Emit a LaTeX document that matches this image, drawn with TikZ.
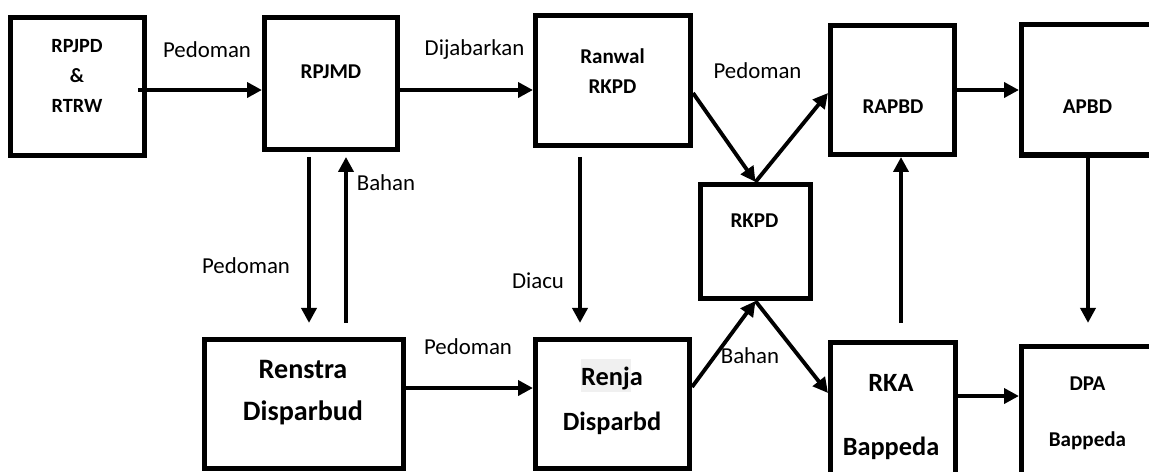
\documentclass[tikz,border=0pt]{standalone}
\usepackage{fontspec}
\setmainfont{Carlito}
\usetikzlibrary{arrows.meta}

\tikzset{
	box/.style={draw, line width=2.9pt, inner sep=0pt},
	arr/.style={line width=2.2pt, -{Triangle[length=8.5pt,width=8.5pt]}},
	lbl/.style={font=\fontsize{13}{15}\selectfont, inner sep=0pt, anchor=base},
	txt/.style={font=\bfseries\fontsize{#1}{#1}\selectfont, inner sep=0pt, anchor=base},
	txt/.default=12
}

\begin{document}
\begin{tikzpicture}[x=0.02cm, y=-0.02cm]
	\useasboundingbox (0,0) rectangle (1149,471);
	\clip (0,0) rectangle (1149,471);

	% Boxes
	\node[box, minimum width=2.68cm, minimum height=2.76cm] (rpjpd) at (77.5,86.5) {};
	\node[box, minimum width=2.66cm, minimum height=2.64cm] (rpjmd) at (331,83.5) {};
	\node[box, minimum width=3.10cm, minimum height=2.60cm] (ranwal) at (613,80.5) {};
	\node[box, minimum width=2.20cm, minimum height=2.28cm] (rkpd) at (755.5,241.5) {};
	\node[box, minimum width=2.48cm, minimum height=2.58cm] (rapbd) at (892.5,90) {};
	\node[box, minimum width=2.88cm, minimum height=2.61cm] (apbd) at (1093.5,89.75) {};
	\node[box, minimum width=3.98cm, minimum height=2.58cm] (renstra) at (304,404) {};
	\node[box, minimum width=3.08cm, minimum height=2.58cm] (renja) at (612.5,404) {};
	\node[box, minimum width=2.50cm, minimum height=3.15cm] (rka) at (893,421.25) {};
	\node[box, minimum width=2.88cm, minimum height=3.07cm] (dpa) at (1093.5,423.25) {};

	% Horizontal and slanted arrows
	\draw[arr, shorten <=-5pt] (rpjpd.east |- 0,90) -- (rpjmd.west |- 0,90);
	\draw[arr] (rpjmd.east |- 0,90) -- (ranwal.west |- 0,90);
	\draw[arr] (ranwal.east |- 0,93) -- (rkpd.north);
	\draw[arr] (rkpd.north) -- (rapbd.west |- 0,93);
	\draw[arr] (rapbd.east |- 0,90) -- (apbd.west |- 0,90);
	\draw[arr] (renstra.east |- 0,388) -- (renja.west |- 0,388);
	\draw[arr] (renja.east |- 0,387) -- (rkpd.south);
	\draw[arr] (rkpd.south) -- (rka.west |- 0,393);
	\draw[arr] (rka.east |- 0,396) -- (dpa.west |- 0,396);

	% Vertical arrows
	\draw[arr, shorten <=2.8pt, shorten >=8pt] (rpjmd.south -| 309,0) -- (renstra.north -| 309,0);
	\draw[arr, shorten <=8pt, shorten >=2.8pt] (renstra.north -| 346,0) -- (rpjmd.south -| 346,0);
	\draw[arr, shorten <=5pt, shorten >=8pt] (ranwal.south -| 580,0) -- (renja.north -| 580,0);
	\draw[arr, shorten <=9.6pt] (rka.north -| 901,0) -- (rapbd.south -| 901,0);
	\draw[arr, shorten >=12pt] (apbd.south -| 1088,0) -- (dpa.north -| 1088,0);

	% Arrow labels
	\node[lbl] (pedA) at (207,57) {Pedoman};
	\node[lbl] (dijab) at (474.5,55) {Dijabarkan};
	\node[lbl] (pedB) at (757.5,78) {Pedoman};
	\node[lbl] (bahanA) at (386,190) {Bahan};
	\node[lbl] (pedC) at (246,273) {Pedoman};
	\node[lbl] (diacu) at (538,288) {Diacu};
	\node[lbl] (pedD) at (468,354) {Pedoman};
	\node[lbl] (bahanB) at (750,363) {Bahan};

	% Box texts
	\node[txt=11.5] (rpjpdA) at (77,52) {RPJPD};
	\node[txt=11.5] (rpjpdB) at (77,82) {\&};
	\node[txt=11.5] (rpjpdC) at (77,112) {RTRW};
	\node[txt] (rpjmdA) at (331,78) {RPJMD};
	\node[txt] (ranwalA) at (612.5,63) {Ranwal};
	\node[txt] (ranwalB) at (612.5,93) {RKPD};
	\node[txt] (rkpdA) at (754.5,227) {RKPD};
	\node[txt] (rapbdA) at (893,113) {RAPBD};
	\node[txt] (apbdA) at (1087.5,113) {APBD};
	\node[txt=16] (renstraA) at (303,378) {Renstra};
	\node[txt=16] (renstraB) at (303,420) {Disparbud};
	\fill[gray!12] (580.5,359) rectangle (631,392);
	\node[txt=15] (renjaA) at (612,385) {Renja};
	\node[txt=15] (renjaB) at (612,430) {Disparbd};
	\node[txt=15] (rkaA) at (891,391) {RKA};
	\node[txt=15] (rkaB) at (891,455) {Bappeda};
	\node[txt] (dpaA) at (1087.5,390) {DPA};
	\node[txt] (dpaB) at (1087.5,446) {Bappeda};
\end{tikzpicture}
\end{document}
